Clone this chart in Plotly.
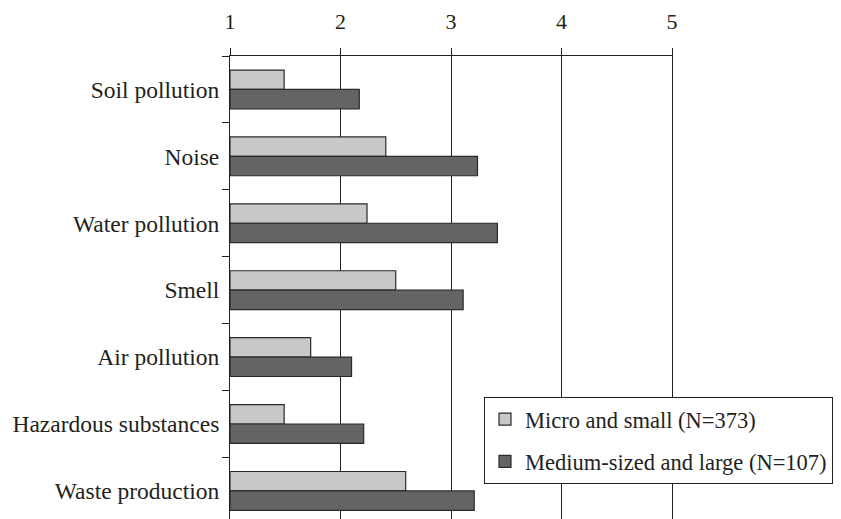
import plotly.graph_objects as go

categories = ["Soil pollution", "Noise", "Water pollution", "Smell",
              "Air pollution", "Hazardous substances", "Waste production"]
micro_small = [1.49, 2.41, 2.24, 2.50, 1.73, 1.49, 2.59]
medium_large = [2.17, 3.24, 3.42, 3.11, 2.10, 2.21, 3.21]
series_names = ["Micro and small (N=373)", "Medium-sized and large (N=107)"]
x_ticks = [1, 2, 3, 4, 5]
base_value = 1

FONT = "Liberation Serif"
INK = "#231f20"

fig = go.Figure()
fig.add_trace(go.Bar(
    y=categories, x=[v - base_value for v in micro_small], base=base_value,
    orientation="h", name=series_names[0], legendgroup="a",
    marker=dict(color="#c8c8c8", line=dict(color="#2a2a2a", width=1.2)),
))
fig.add_trace(go.Bar(
    y=categories, x=[v - base_value for v in medium_large], base=base_value,
    orientation="h", name=series_names[1], legendgroup="b",
    marker=dict(color="#646464", line=dict(color="#2a2a2a", width=1.2)),
))

# page body has an 8px default margin, so the figure is sized/offset for it
fig.update_layout(
    width=825, height=511,
    margin=dict(l=222, r=161, t=48, b=0),
    paper_bgcolor="white", plot_bgcolor="white",
    barmode="group", bargap=0.42, bargroupgap=0,
    font=dict(family=FONT, size=23.5, color=INK),
    legend=dict(
        x=0.575, y=0.2635, xanchor="left", yanchor="top",
        bordercolor=INK, borderwidth=1, bgcolor="white",
        font=dict(family=FONT, size=22.5, color=INK),
        tracegroupgap=10, traceorder="grouped",
    ),
    xaxis=dict(
        side="top", range=[1, 5], tickvals=x_ticks, automargin=False,
        showline=True, linecolor=INK, linewidth=1,
        ticks="outside", ticklen=7, tickcolor=INK, tickwidth=1,
        showgrid=True, gridcolor=INK, gridwidth=1,
        zeroline=False, ticklabelstandoff=10,
        tickfont=dict(family=FONT, size=22, color=INK),
    ),
    yaxis=dict(
        type="category", categoryorder="array", categoryarray=categories,
        range=[6.42, -0.5], autorange=False, automargin=False,
        showline=True, linecolor=INK, linewidth=1, mirror=True,
        ticks="outside", ticklen=7, tickcolor=INK, tickwidth=1,
        tickson="boundaries", showgrid=False, ticklabelstandoff=5,
        tickfont=dict(family=FONT, size=23.5, color=INK),
    ),
)

fig.write_html("out.html")
